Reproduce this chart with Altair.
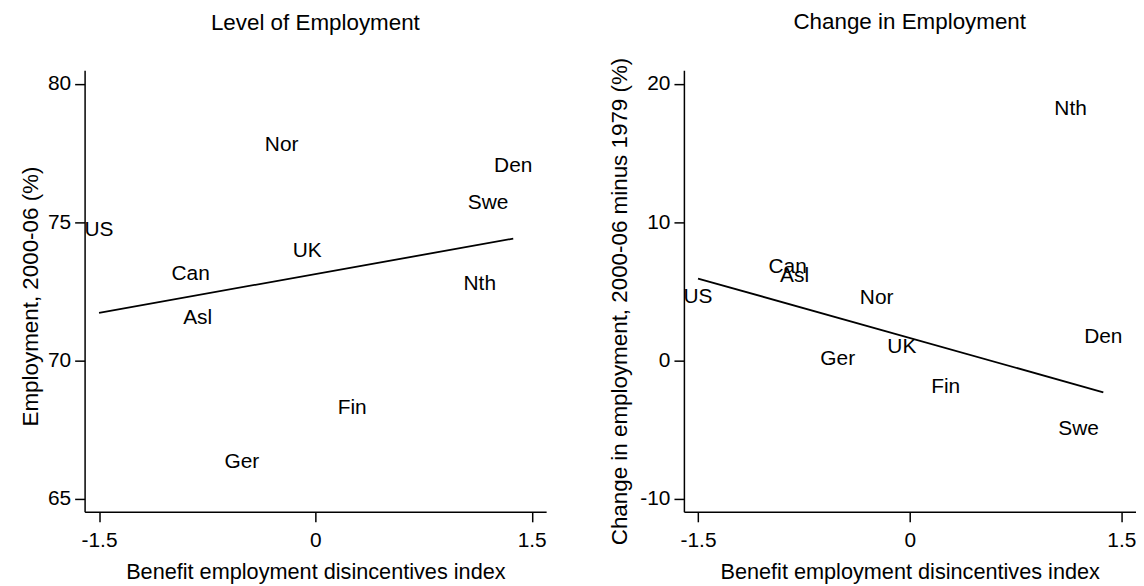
import altair as alt
import pandas as pd

# ---- data ----
countries = ["US", "Can", "Asl", "Nor", "UK", "Ger", "Fin", "Nth", "Swe", "Den"]
disincentive = [-1.5, -0.865, -0.816, -0.234, -0.056, -0.51, 0.255, 1.14, 1.197, 1.372]
emp_level = [74.70, 73.13, 71.52, 77.80, 73.95, 66.33, 68.26, 72.77, 75.71, 77.05]
emp_change = [4.57, 6.77, 6.13, 4.54, 0.98, 0.13, -1.92, 18.2, -4.98, 1.72]

x_ticks = [-1.5, 0, 1.5]
level_ticks = [65, 70, 75, 80]
change_ticks = [-10, 0, 10, 20]

df = pd.DataFrame({"country": countries, "x": disincentive,
                   "level": emp_level, "change": emp_change})

FONT = "Liberation Sans"
XTITLE = "Benefit employment disincentives index"
H = 444

x_label_expr = ("datum.value == 0 ? '0' : (datum.value < 0 ? '-' + format(-datum.value, '.1f')"
                " : format(datum.value, '.1f'))")
y_label_expr = ("datum.value < 0 ? '-' + format(-datum.value, 'd') : format(datum.value, 'd')")


def panel(ycol, ytitle, title, ydomain, yticks, width, title_offset,
          ytitle_shift, ytitle_pad, fit_filter=None):
    x = alt.X("x:Q",
              scale=alt.Scale(domain=[-1.6, 1.6], nice=False, zero=False),
              axis=alt.Axis(values=x_ticks, title=XTITLE, labelExpr=x_label_expr))
    y = alt.Y(f"{ycol}:Q",
              scale=alt.Scale(domain=ydomain, nice=False, zero=False),
              axis=alt.Axis(values=yticks, title=ytitle, labelExpr=y_label_expr,
                            titleY=H / 2 + ytitle_shift, titlePadding=ytitle_pad))
    base = alt.Chart(df)
    labels = base.mark_text(font=FONT, fontSize=21, align="center",
                            baseline="middle", color="black").encode(
        x=x, y=y, text="country:N")
    fit_base = base
    if fit_filter is not None:
        fit_base = fit_base.transform_filter(fit_filter)
    fit = fit_base.transform_regression("x", ycol).mark_line(
        color="black", strokeWidth=1.8).encode(x=x, y=y)
    return alt.layer(labels, fit).properties(
        width=width, height=H,
        title=alt.TitleParams(title, font=FONT, fontSize=22.5, fontWeight="normal",
                              anchor="middle", baseline="alphabetic",
                              offset=title_offset, frame="group", color="black"))


left = panel("level", "Employment, 2000-06 (%)", "Level of Employment",
             [64.52, 80.5], level_ticks, 464, title_offset=18,
             ytitle_shift=5, ytitle_pad=5)
right = panel("change", "Change in employment, 2000-06 minus 1979 (%)",
              "Change in Employment", [-10.96, 21.0], change_ticks, 454,
              title_offset=6, ytitle_shift=10, ytitle_pad=8,
              fit_filter="datum.country != 'Nth'")

chart = alt.hconcat(left, right, spacing=138.5, bounds="flush").properties(
    padding={"left": 11, "top": 1, "right": 0, "bottom": 0}
).configure_view(stroke=None).configure_axis(
    grid=False,
    domainColor="black", domainWidth=1.5,
    tickColor="black", tickWidth=1.5, tickSize=10,
    labelFont=FONT, labelFontSize=21, labelColor="black",
    titleFont=FONT, titleFontWeight="normal", titleColor="black",
).configure_axisX(labelPadding=8, titlePadding=11, labelFlush=False, titleFontSize=21.8
).configure_axisY(labelPadding=4, titleFontSize=22.5)

chart.save("out.html", embed_options={"renderer": "svg", "actions": False})
